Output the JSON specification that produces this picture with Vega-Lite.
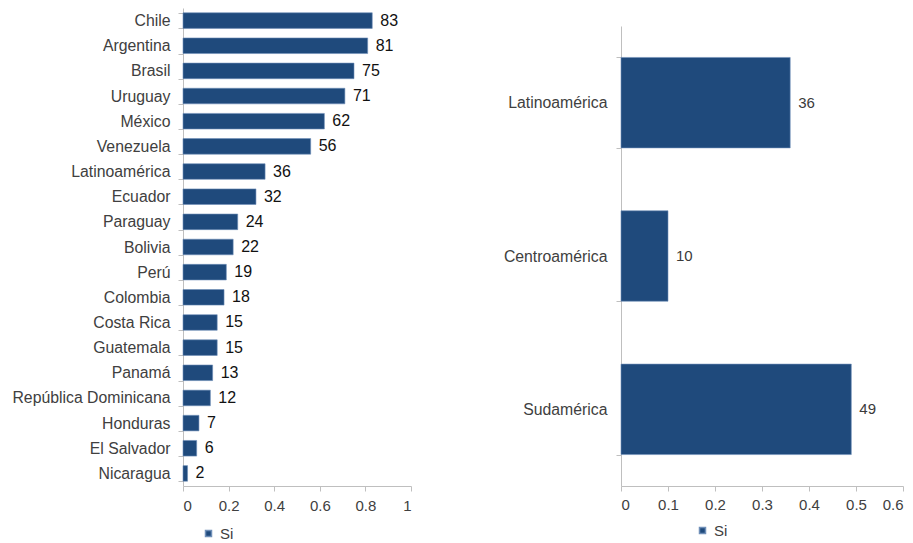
{
  "$schema": "https://vega.github.io/schema/vega-lite/v6.json",
  "background": "white",
  "padding": {"left": 11, "top": 0, "right": 5, "bottom": 0},
  "bounds": "flush",
  "spacing": 210,
  "datasets": {
    "paises": [
      {"pais": "Chile", "share": 0.83, "pct": 83, "serie": "Si"},
      {"pais": "Argentina", "share": 0.81, "pct": 81, "serie": "Si"},
      {"pais": "Brasil", "share": 0.75, "pct": 75, "serie": "Si"},
      {"pais": "Uruguay", "share": 0.71, "pct": 71, "serie": "Si"},
      {"pais": "México", "share": 0.62, "pct": 62, "serie": "Si"},
      {"pais": "Venezuela", "share": 0.56, "pct": 56, "serie": "Si"},
      {"pais": "Latinoamérica", "share": 0.36, "pct": 36, "serie": "Si"},
      {"pais": "Ecuador", "share": 0.32, "pct": 32, "serie": "Si"},
      {"pais": "Paraguay", "share": 0.24, "pct": 24, "serie": "Si"},
      {"pais": "Bolivia", "share": 0.22, "pct": 22, "serie": "Si"},
      {"pais": "Perú", "share": 0.19, "pct": 19, "serie": "Si"},
      {"pais": "Colombia", "share": 0.18, "pct": 18, "serie": "Si"},
      {"pais": "Costa Rica", "share": 0.15, "pct": 15, "serie": "Si"},
      {"pais": "Guatemala", "share": 0.15, "pct": 15, "serie": "Si"},
      {"pais": "Panamá", "share": 0.13, "pct": 13, "serie": "Si"},
      {"pais": "República Dominicana", "share": 0.12, "pct": 12, "serie": "Si"},
      {"pais": "Honduras", "share": 0.07, "pct": 7, "serie": "Si"},
      {"pais": "El Salvador", "share": 0.06, "pct": 6, "serie": "Si"},
      {"pais": "Nicaragua", "share": 0.02, "pct": 2, "serie": "Si"}
    ],
    "regiones": [
      {"region": "Latinoamérica", "share": 0.36, "pct": 36, "serie": "Si"},
      {"region": "Centroamérica", "share": 0.10, "pct": 10, "serie": "Si"},
      {"region": "Sudamérica", "share": 0.49, "pct": 49, "serie": "Si"}
    ]
  },
  "resolve": {"legend": {"color": "independent"}, "scale": {"color": "independent"}},
  "hconcat": [
    {
      "width": 228,
      "height": 478,
      "data": {"name": "paises"},
      "encoding": {
        "y": {
          "field": "pais",
          "type": "nominal",
          "sort": null,
          "scale": {"paddingInner": 0.38, "paddingOuter": 0.19},
          "axis": {
            "title": null,
            "tickBand": "extent",
            "labelPadding": 8,
            "labelFontSize": 15.8,
            "labelLimit": 300
          }
        },
        "x": {
          "field": "share",
          "type": "quantitative",
          "scale": {"domain": [0, 1], "nice": false},
          "axis": {
            "title": null,
            "grid": false,
            "values": [0, 0.2, 0.4, 0.6, 0.8, 1],
            "format": "~g",
            "labelFontSize": 15,
            "labelPadding": 7
          }
        }
      },
      "layer": [
        {
          "mark": {"type": "bar", "stroke": "#6f8fb8", "strokeWidth": 0.6},
          "encoding": {
            "color": {
              "field": "serie",
              "type": "nominal",
              "scale": {"range": ["#1f4a7c"]},
              "legend": {
                "title": null,
                "orient": "none",
                "legendX": 18,
                "legendY": 518,
                "symbolType": "square",
                "symbolSize": 36,
                "labelFontSize": 15,
                "labelColor": "#404040",
                "labelFont": "Liberation Sans",
                "padding": 0
              }
            }
          }
        },
        {
          "mark": {"type": "text", "align": "left", "baseline": "middle", "dx": 8, "fontSize": 16, "font": "Liberation Sans", "color": "#111111"},
          "encoding": {"text": {"field": "pct", "type": "quantitative"}}
        }
      ]
    },
    {
      "width": 282,
      "height": 478,
      "data": {"name": "regiones"},
      "encoding": {
        "y": {
          "field": "region",
          "type": "nominal",
          "sort": null,
          "scale": {"range": [18, 478], "paddingInner": 0.41, "paddingOuter": 0.205},
          "axis": {
            "title": null,
            "tickBand": "extent",
            "labelPadding": 9,
            "labelFontSize": 15.8,
            "labelLimit": 300
          }
        },
        "x": {
          "field": "share",
          "type": "quantitative",
          "scale": {"domain": [0, 0.6], "nice": false},
          "axis": {
            "title": null,
            "grid": false,
            "values": [0, 0.1, 0.2, 0.3, 0.4, 0.5, 0.6],
            "format": "~g",
            "labelFontSize": 15,
            "labelPadding": 6
          }
        }
      },
      "layer": [
        {
          "mark": {"type": "bar", "stroke": "#6f8fb8", "strokeWidth": 0.6},
          "encoding": {
            "color": {
              "field": "serie",
              "type": "nominal",
              "scale": {"range": ["#1f4a7c"]},
              "legend": {
                "title": null,
                "orient": "none",
                "legendX": 74,
                "legendY": 515,
                "symbolType": "square",
                "symbolSize": 36,
                "labelFontSize": 15,
                "labelColor": "#404040",
                "labelFont": "Liberation Sans",
                "padding": 0
              }
            }
          }
        },
        {
          "mark": {"type": "text", "align": "left", "baseline": "middle", "dx": 8, "fontSize": 15, "font": "Liberation Sans", "color": "#3a3a3a"},
          "encoding": {"text": {"field": "pct", "type": "quantitative"}}
        }
      ]
    }
  ],
  "config": {
    "view": {"stroke": null},
    "font": "Liberation Sans",
    "axis": {
      "domainColor": "#bfbfbf",
      "tickColor": "#bfbfbf",
      "tickSize": 5,
      "labelColor": "#404040",
      "labelFont": "Liberation Sans"
    }
  }
}
